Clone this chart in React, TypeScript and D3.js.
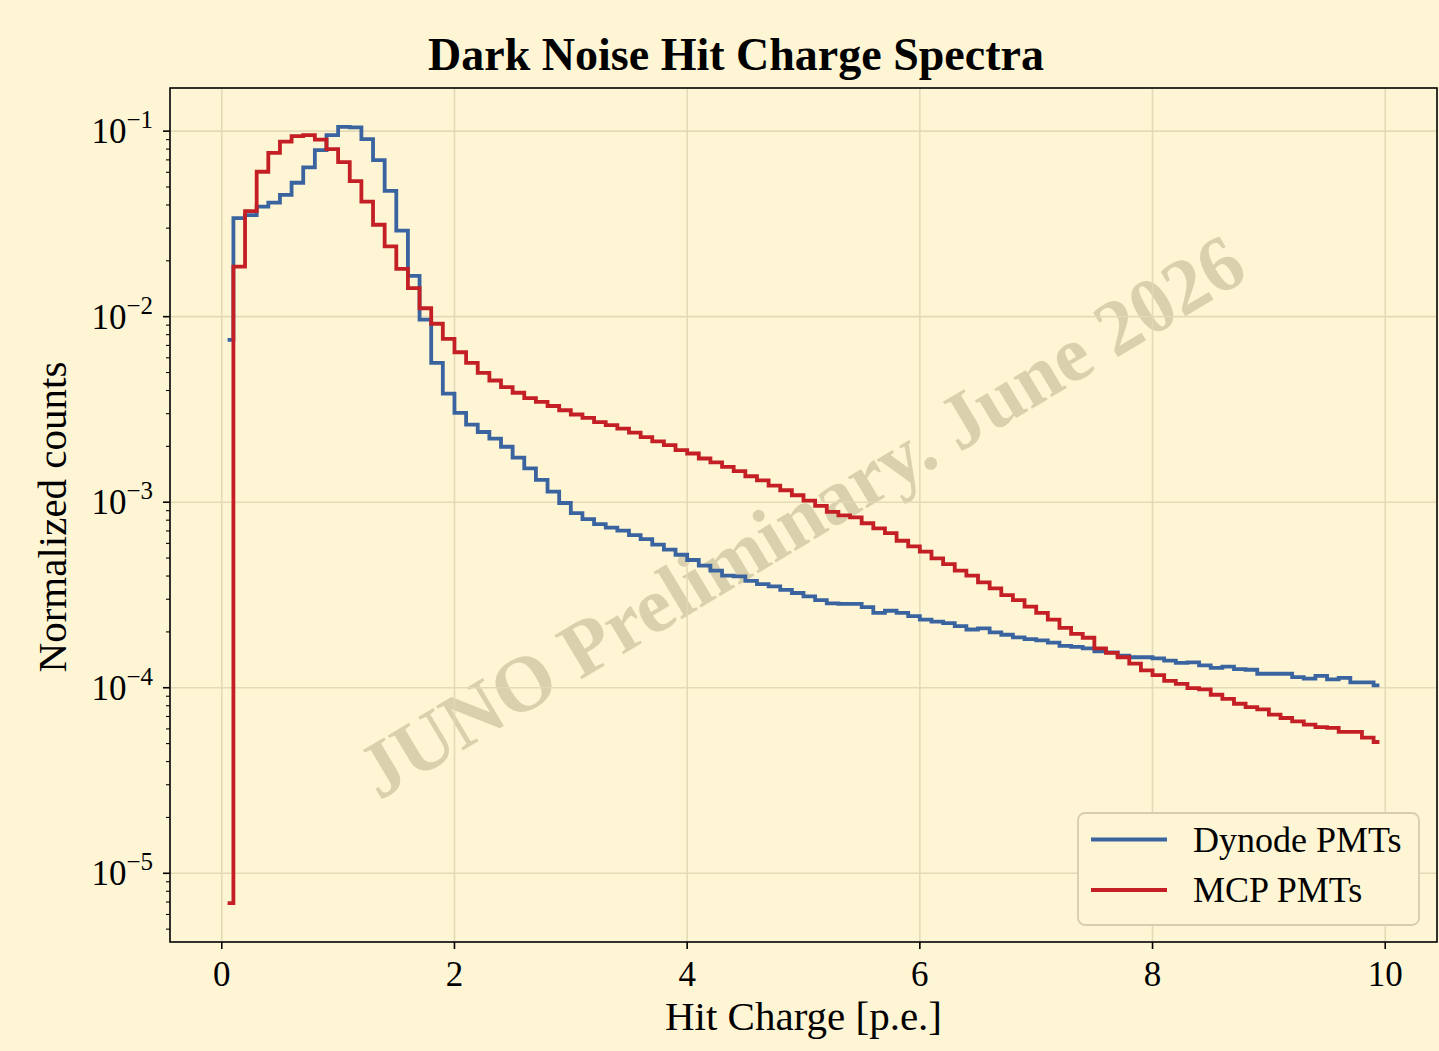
import React from "react";
import * as d3 from "d3";

const BIN_WIDTH = 0.1;
const N_BINS = 100;

const dynodePMTs: number[] = [
  7.5e-3, 0.034, 0.0353, 0.0392, 0.0412, 0.0453, 0.0527, 0.0638, 0.079, 0.0952,
  0.1055, 0.1047, 0.0906, 0.0698, 0.0476, 0.0291, 0.0166, 0.00964, 0.00564, 0.00385,
  0.00303, 0.00262, 0.00239, 0.0022, 0.00199, 0.00174, 0.00152, 0.00132, 0.00114, 0.00099,
  0.000873, 0.00081, 0.000762, 0.00073, 0.000702, 0.000665, 0.000633, 0.00059, 0.000555, 0.000521,
  0.000488, 0.000455, 0.000428, 0.000402, 0.000398, 0.000377, 0.000362, 0.000352, 0.000337, 0.000324,
  0.000311, 0.000297, 0.000285, 0.000283, 0.000283, 0.000272, 0.000253, 0.00026, 0.000253, 0.000243,
  0.000233, 0.000227, 0.000223, 0.000215, 0.000206, 0.000209, 0.000199, 0.000193, 0.000187, 0.000183,
  0.00018, 0.000175, 0.000168, 0.000166, 0.000163, 0.000157, 0.000155, 0.000149, 0.000146, 0.000146,
  0.000144, 0.00014, 0.000136, 0.000137, 0.000132, 0.000128, 0.00013, 0.000126, 0.000125, 0.000119,
  0.000119, 0.000119, 0.000114, 0.000112, 0.000116, 0.000111, 0.000113, 0.000107, 0.000107, 0.000103,
];

const mcpPMTs: number[] = [
  6.9e-6, 0.0186, 0.0371, 0.0604, 0.0764, 0.0877, 0.094, 0.0952, 0.09, 0.08,
  0.0681, 0.0538, 0.0417, 0.0313, 0.0239, 0.0181, 0.01425, 0.0111, 0.00916, 0.00759,
  0.00643, 0.00564, 0.00498, 0.00453, 0.00417, 0.00389, 0.00364, 0.00347, 0.0033, 0.00313,
  0.00297, 0.00285, 0.0027, 0.0026, 0.00249, 0.00237, 0.00224, 0.00213, 0.00203, 0.00191,
  0.00183, 0.00172, 0.00164, 0.00155, 0.00147, 0.00138, 0.00131, 0.00123, 0.00116, 0.00109,
  0.00102, 0.000955, 0.000887, 0.00085, 0.000828, 0.00077, 0.000722, 0.000681, 0.00062, 0.000578,
  0.000541, 0.000498, 0.000464, 0.000428, 0.000402, 0.00037, 0.000343, 0.000316, 0.000297, 0.000274,
  0.000253, 0.000233, 0.00021, 0.000195, 0.000186, 0.000163, 0.000154, 0.000146, 0.000135, 0.000124,
  0.000117, 0.000109, 0.000105, 0.0000996, 0.000098, 0.0000917, 0.0000872, 0.000082, 0.0000787, 0.0000764,
  0.0000716, 0.0000687, 0.0000659, 0.0000632, 0.0000614, 0.0000607, 0.0000578, 0.0000578, 0.0000538, 0.000051,
];

const xTicks: number[] = [0, 2, 4, 6, 8, 10];
const yTickExps: number[] = [-5, -4, -3, -2, -1];
const seriesNames: string[] = ["Dynode PMTs", "MCP PMTs"];
const seriesColors: string[] = ["#3a64a0", "#c41f25"];

const W = 1439;
const H = 1051;
const M = { left: 170, right: 1437, top: 88, bottom: 942 };
const BG = "#fef5d4";
const GRID = "#e3d8b4";
const FONT = "'Liberation Serif', 'Times New Roman', serif";

export default function App() {
  const centers = d3.range(N_BINS).map((i) => (i + 0.5) * BIN_WIDTH);
  const xmin = centers[0];
  const xmax = centers[centers.length - 1];
  const xpad = (xmax - xmin) * 0.05;
  const x = d3.scaleLinear().domain([xmin - xpad, xmax + xpad]).range([M.left, M.right]);

  const all = [...dynodePMTs, ...mcpPMTs];
  const lmin = Math.log10(d3.min(all)!);
  const lmax = Math.log10(d3.max(all)!);
  const lpad = (lmax - lmin) * 0.05;
  const y = d3
    .scaleLog()
    .domain([Math.pow(10, lmin - lpad), Math.pow(10, lmax + lpad)])
    .range([M.bottom, M.top]);

  const line = d3
    .line<number>()
    .x((_, i) => x(centers[i]))
    .y((d) => y(d))
    .curve(d3.curveStep);

  const minorTicks: number[] = [];
  for (let e = -6; e <= 0; e++) {
    for (let m = 2; m <= 9; m++) {
      const v = m * Math.pow(10, e);
      const [d0, d1] = y.domain();
      if (v >= d0 && v <= d1) minorTicks.push(v);
    }
  }

  const series = [dynodePMTs, mcpPMTs];
  const cx = (M.left + M.right) / 2;
  const cy = (M.top + M.bottom) / 2;

  return (
    <svg
      width={W}
      height={H}
      style={{ position: "absolute", left: 0, top: 0, display: "block" }}
      fontFamily={FONT}
    >
      <rect x={0} y={0} width={W} height={H} fill={BG} />
      <defs>
        <clipPath id="plotclip">
          <rect x={M.left} y={M.top} width={M.right - M.left} height={M.bottom - M.top} />
        </clipPath>
      </defs>
      {/* watermark */}
      <text
        x={cx - 3}
        y={cy}
        transform={`rotate(-31 ${cx} ${cy})`}
        textAnchor="middle"
        dominantBaseline="central"
        fontSize={79}
        fontWeight="bold"
        fill="#857a52"
        fillOpacity={0.3}
      >
        JUNO Preliminary. June 2026
      </text>
      {/* grid */}
      {xTicks.map((t) => (
        <line key={"gx" + t} x1={x(t)} x2={x(t)} y1={M.top} y2={M.bottom} stroke={GRID} strokeWidth={1.6} opacity={0.9} />
      ))}
      {yTickExps.map((e) => (
        <line
          key={"gy" + e}
          x1={M.left}
          x2={M.right}
          y1={y(Math.pow(10, e))}
          y2={y(Math.pow(10, e))}
          stroke={GRID}
          strokeWidth={1.6}
          opacity={0.9}
        />
      ))}
      {/* series */}
      <g clipPath="url(#plotclip)">
        {series.map((s, i) => (
          <path key={i} d={line(s)!} fill="none" stroke={seriesColors[i]} strokeWidth={3.8} strokeLinejoin="miter" />
        ))}
      </g>
      {/* frame */}
      <rect
        x={M.left}
        y={M.top}
        width={M.right - M.left}
        height={M.bottom - M.top}
        fill="none"
        stroke="#000"
        strokeWidth={1.6}
      />
      {/* x ticks */}
      {xTicks.map((t) => (
        <g key={"xt" + t}>
          <line x1={x(t)} x2={x(t)} y1={M.bottom} y2={M.bottom + 7} stroke="#000" strokeWidth={1.6} />
          <text x={x(t)} y={M.bottom + 44} textAnchor="middle" fontSize={35} fill="#000">
            {t}
          </text>
        </g>
      ))}
      {/* y ticks */}
      {yTickExps.map((e) => (
        <g key={"yt" + e}>
          <line
            x1={M.left - 7}
            x2={M.left}
            y1={y(Math.pow(10, e))}
            y2={y(Math.pow(10, e))}
            stroke="#000"
            strokeWidth={1.6}
          />
          <text x={M.left - 17} y={y(Math.pow(10, e)) + 12} textAnchor="end" fontSize={35} fill="#000">
            10
            <tspan dy={-15} fontSize={25}>
              {"\u2212" + Math.abs(e)}
            </tspan>
          </text>
        </g>
      ))}
      {minorTicks.map((v, i) => (
        <line key={"mt" + i} x1={M.left - 4} x2={M.left} y1={y(v)} y2={y(v)} stroke="#000" strokeWidth={1.1} />
      ))}
      {/* labels */}
      <text x={cx} y={1030} textAnchor="middle" fontSize={41} fill="#000">
        Hit Charge [p.e.]
      </text>
      <text
        x={0}
        y={0}
        transform={`translate(66 ${cy + 2}) rotate(-90)`}
        textAnchor="middle"
        fontSize={41}
        fill="#000"
      >
        Normalized counts
      </text>
      <text x={736} y={70} textAnchor="middle" fontSize={46} fontWeight="bold" fill="#000">
        Dark Noise Hit Charge Spectra
      </text>
      {/* legend */}
      <g>
        <rect x={1078} y={813} width={341} height={112} rx={7} fill={BG} stroke="#d6cdb0" strokeWidth={1.8} />
        {seriesNames.map((n, i) => (
          <g key={n}>
            <line x1={1091} x2={1167} y1={839.5 + i * 50.5} y2={839.5 + i * 50.5} stroke={seriesColors[i]} strokeWidth={3.8} />
            <text x={1193} y={852 + i * 50} fontSize={36} fill="#000">
              {n}
            </text>
          </g>
        ))}
      </g>
    </svg>
  );
}
